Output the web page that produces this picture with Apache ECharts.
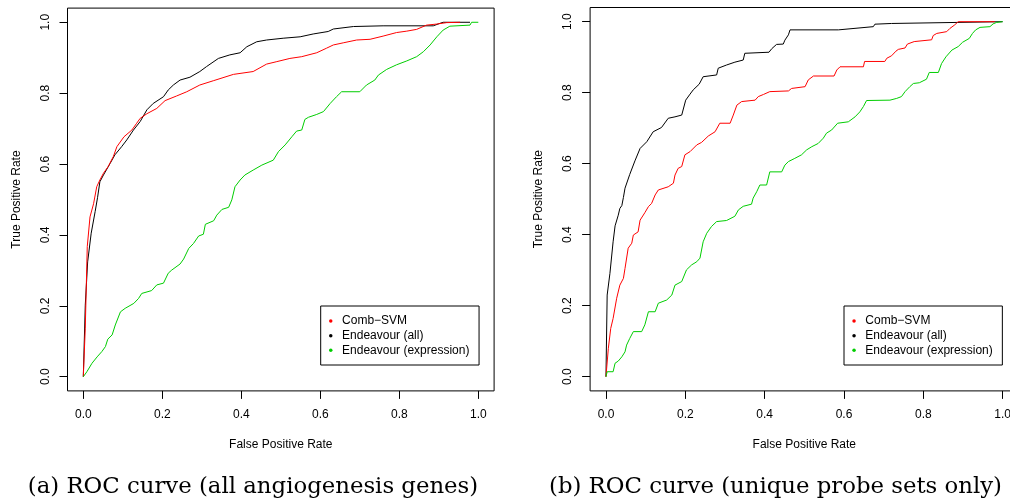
<!DOCTYPE html>
<html>
<head>
<meta charset="utf-8">
<script src="https://cdn.jsdelivr.net/npm/echarts@6.0.0/dist/echarts.min.js"></script>
<style>
html, body { margin: 0; padding: 0; background: #fff; }
#chart { width: 1010px; height: 501px; }
</style>
</head>
<body>
<div id="chart"></div>
<script>
// ---- data (FPR, TPR) ----
const seriesNames = ['Comb\u2212SVM', 'Endeavour (all)', 'Endeavour (expression)'];
const tickValues = [0, 0.2, 0.4, 0.6, 0.8, 1.0];
const xAxisTitle = 'False Positive Rate';
const yAxisTitle = 'True Positive Rate';
const captions = ['(a) ROC curve (all angiogenesis genes)', '(b) ROC curve (unique probe sets only)'];

// panel (a): all angiogenesis genes
const svmA = [[0,0],[0.005,0.137],[0.010,0.367],[0.017,0.451],[0.026,0.488],[0.034,0.536],[0.042,0.555],[0.051,0.574],[0.063,0.593],[0.076,0.621],[0.085,0.649],[0.103,0.677],[0.123,0.696],[0.135,0.715],[0.144,0.729],[0.161,0.742],[0.186,0.757],[0.207,0.779],[0.236,0.792],[0.262,0.804],[0.295,0.823],[0.329,0.835],[0.380,0.853],[0.430,0.861],[0.464,0.882],[0.490,0.889],[0.523,0.898],[0.553,0.903],[0.591,0.914],[0.616,0.927],[0.633,0.936],[0.658,0.942],[0.692,0.950],[0.726,0.952],[0.759,0.961],[0.793,0.971],[0.819,0.975],[0.844,0.980],[0.869,0.992],[0.895,0.995],[0.920,0.999],[0.954,1.0]];
const allA = [[0,0],[0.005,0.202],[0.011,0.324],[0.020,0.405],[0.030,0.466],[0.036,0.505],[0.042,0.550],[0.051,0.569],[0.068,0.602],[0.080,0.626],[0.097,0.649],[0.110,0.668],[0.127,0.696],[0.144,0.720],[0.161,0.753],[0.177,0.771],[0.203,0.790],[0.215,0.809],[0.228,0.823],[0.245,0.837],[0.270,0.845],[0.295,0.861],[0.312,0.875],[0.342,0.898],[0.371,0.908],[0.397,0.914],[0.414,0.931],[0.439,0.945],[0.464,0.950],[0.506,0.955],[0.549,0.959],[0.582,0.967],[0.620,0.974],[0.633,0.981],[0.684,0.988],[0.759,0.990],[0.886,0.990],[0.903,0.997],[0.911,1.0],[0.979,1.0]];
const exprA = [[0,0],[0.009,0.014],[0.022,0.038],[0.035,0.056],[0.047,0.071],[0.056,0.085],[0.062,0.106],[0.073,0.118],[0.081,0.146],[0.094,0.183],[0.106,0.193],[0.128,0.207],[0.140,0.221],[0.148,0.235],[0.173,0.243],[0.186,0.259],[0.203,0.264],[0.215,0.292],[0.224,0.301],[0.245,0.318],[0.254,0.332],[0.267,0.362],[0.279,0.376],[0.292,0.397],[0.304,0.402],[0.309,0.430],[0.330,0.440],[0.338,0.456],[0.351,0.472],[0.368,0.478],[0.376,0.499],[0.384,0.536],[0.397,0.555],[0.409,0.569],[0.430,0.583],[0.452,0.597],[0.481,0.611],[0.494,0.635],[0.511,0.654],[0.528,0.677],[0.540,0.693],[0.553,0.696],[0.561,0.726],[0.570,0.732],[0.591,0.740],[0.608,0.748],[0.625,0.771],[0.641,0.790],[0.654,0.804],[0.700,0.804],[0.717,0.823],[0.738,0.837],[0.747,0.851],[0.768,0.867],[0.793,0.880],[0.819,0.891],[0.844,0.903],[0.861,0.917],[0.878,0.936],[0.895,0.959],[0.911,0.978],[0.928,0.989],[0.979,0.992],[0.983,1.0],[1.0,1.0]];

// panel (b): unique probe sets only
const svmB = [[0,0],[0.006,0.080],[0.012,0.136],[0.018,0.164],[0.027,0.221],[0.035,0.258],[0.044,0.277],[0.048,0.305],[0.056,0.362],[0.065,0.376],[0.069,0.399],[0.081,0.408],[0.086,0.441],[0.098,0.462],[0.107,0.479],[0.115,0.488],[0.124,0.512],[0.132,0.526],[0.157,0.535],[0.170,0.545],[0.174,0.568],[0.182,0.587],[0.191,0.592],[0.199,0.625],[0.212,0.634],[0.229,0.653],[0.241,0.660],[0.258,0.678],[0.275,0.690],[0.287,0.714],[0.313,0.714],[0.321,0.737],[0.330,0.765],[0.342,0.775],[0.376,0.779],[0.384,0.789],[0.397,0.795],[0.413,0.803],[0.460,0.805],[0.468,0.812],[0.502,0.817],[0.510,0.836],[0.523,0.847],[0.575,0.847],[0.582,0.864],[0.590,0.873],[0.649,0.873],[0.652,0.888],[0.703,0.888],[0.708,0.897],[0.720,0.904],[0.731,0.917],[0.737,0.922],[0.754,0.926],[0.760,0.937],[0.777,0.944],[0.779,0.949],[0.821,0.949],[0.825,0.961],[0.834,0.967],[0.859,0.972],[0.867,0.981],[0.878,0.990],[0.888,1.0],[0.980,1.0]];
const allB = [[0,0],[0.003,0.230],[0.010,0.291],[0.018,0.380],[0.023,0.425],[0.031,0.455],[0.035,0.474],[0.040,0.482],[0.044,0.505],[0.048,0.531],[0.060,0.570],[0.073,0.608],[0.086,0.643],[0.103,0.662],[0.119,0.690],[0.140,0.702],[0.157,0.728],[0.174,0.732],[0.191,0.737],[0.201,0.779],[0.212,0.796],[0.220,0.808],[0.235,0.824],[0.245,0.845],[0.250,0.850],[0.279,0.850],[0.283,0.869],[0.304,0.878],[0.325,0.886],[0.346,0.892],[0.350,0.911],[0.411,0.914],[0.418,0.924],[0.430,0.936],[0.447,0.937],[0.451,0.948],[0.460,0.963],[0.464,0.977],[0.586,0.977],[0.590,0.981],[0.674,0.986],[0.678,0.993],[0.720,0.995],[0.724,1.0],[1.0,1.0]];
const exprB = [[0,0],[0.003,0.014],[0.018,0.014],[0.023,0.038],[0.031,0.044],[0.040,0.056],[0.048,0.070],[0.052,0.089],[0.060,0.108],[0.069,0.127],[0.090,0.127],[0.098,0.146],[0.107,0.183],[0.124,0.183],[0.132,0.207],[0.153,0.216],[0.166,0.230],[0.174,0.258],[0.191,0.268],[0.203,0.301],[0.216,0.315],[0.229,0.324],[0.237,0.334],[0.245,0.380],[0.254,0.404],[0.266,0.423],[0.279,0.437],[0.304,0.440],[0.325,0.452],[0.334,0.470],[0.346,0.480],[0.367,0.486],[0.371,0.503],[0.380,0.521],[0.388,0.540],[0.405,0.540],[0.413,0.577],[0.443,0.577],[0.451,0.596],[0.460,0.606],[0.476,0.615],[0.493,0.625],[0.506,0.639],[0.519,0.648],[0.535,0.657],[0.548,0.672],[0.556,0.686],[0.569,0.695],[0.584,0.714],[0.611,0.718],[0.628,0.732],[0.640,0.746],[0.649,0.761],[0.657,0.778],[0.716,0.779],[0.733,0.784],[0.745,0.789],[0.754,0.803],[0.766,0.817],[0.775,0.826],[0.790,0.828],[0.808,0.838],[0.815,0.857],[0.838,0.857],[0.846,0.882],[0.857,0.901],[0.872,0.920],[0.888,0.930],[0.899,0.942],[0.916,0.953],[0.924,0.967],[0.932,0.977],[0.943,0.984],[0.968,0.986],[0.976,0.994],[0.985,0.998],[1.0,1.0]];

// ---- styling ----
const SANS = "'Liberation Sans', Arial, Helvetica, sans-serif";
const SERIF = "'DejaVu Serif', serif";
const COLORS = { svm: '#ff0000', all: '#000000', expr: '#00cd00' };

const gridBoxes = [
  { left: 67.5, top: 8.1, width: 426.6, height: 382.8 },
  { left: 590.1, top: 7.5, width: 428.4, height: 383.4 }
];

function makeGrid(b) {
  return Object.assign({
    show: true, borderColor: '#000', borderWidth: 1, backgroundColor: 'transparent',
    containLabel: false, outerBoundsMode: 'none'
  }, b);
}
function axisCommon(i, isY) {
  return {
    type: 'value', gridIndex: i, min: -0.04, max: 1.04,
    position: isY ? 'left' : 'bottom',
    name: isY ? yAxisTitle : xAxisTitle,
    nameLocation: 'middle', nameGap: isY ? 45 : 48, nameRotate: isY ? 90 : 0,
    nameTextStyle: { fontSize: 12, fontFamily: SANS, color: '#000' },
    axisLine: { show: false, onZero: false },
    splitLine: { show: false },
    axisTick: { show: true, inside: false, length: 8, customValues: tickValues, lineStyle: { color: '#000', width: 1 } },
    axisLabel: {
      customValues: tickValues, margin: isY ? 16 : 18, rotate: isY ? 90 : 0,
      fontSize: 12, fontFamily: SANS, color: '#000',
      formatter: function (v) { return v.toFixed(1); }
    }
  };
}
function lineSeries(name, data, color, i) {
  return {
    name: name, type: 'line', data: data, xAxisIndex: i, yAxisIndex: i,
    symbol: 'none', showSymbol: false, smooth: false, clip: true,
    lineStyle: { color: color, width: 1 }, itemStyle: { color: color },
    emphasis: { disabled: true }
  };
}
function makeLegend(left) {
  return {
    left: left, top: 306, orient: 'vertical', icon: 'circle',
    itemWidth: 12.6, itemHeight: 3.5, itemGap: 0,
    padding: [7.6, 9.6, 7.3, 8.3],
    borderColor: '#000', borderWidth: 1, backgroundColor: '#fff',
    itemStyle: { borderWidth: 0 },
    textStyle: { fontSize: 12, fontFamily: SANS, color: '#000', lineHeight: 14.7 },
    data: seriesNames, selectedMode: false
  };
}

const option = {
  animation: false,
  grid: gridBoxes.map(makeGrid),
  xAxis: [axisCommon(0, false), axisCommon(1, false)],
  yAxis: [axisCommon(0, true), axisCommon(1, true)],
  legend: [makeLegend(320.7), makeLegend(844)],
  series: [
    lineSeries(seriesNames[1], allA, COLORS.all, 0),
    lineSeries(seriesNames[0], svmA, COLORS.svm, 0),
    lineSeries(seriesNames[2], exprA, COLORS.expr, 0),
    lineSeries(seriesNames[1], allB, COLORS.all, 1),
    lineSeries(seriesNames[0], svmB, COLORS.svm, 1),
    lineSeries(seriesNames[2], exprB, COLORS.expr, 1)
  ],
  graphic: [
    { type: 'text', x: 253, y: 487, style: { text: captions[0], font: '22.8px ' + SERIF, fill: '#000', textAlign: 'center', textVerticalAlign: 'middle' } },
    { type: 'text', x: 775.5, y: 487, style: { text: captions[1], font: '22.8px ' + SERIF, fill: '#000', textAlign: 'center', textVerticalAlign: 'middle' } }
  ]
};

const chart = echarts.init(document.getElementById('chart'), null, { renderer: 'canvas' });
chart.setOption(option);
</script>
</body>
</html>
